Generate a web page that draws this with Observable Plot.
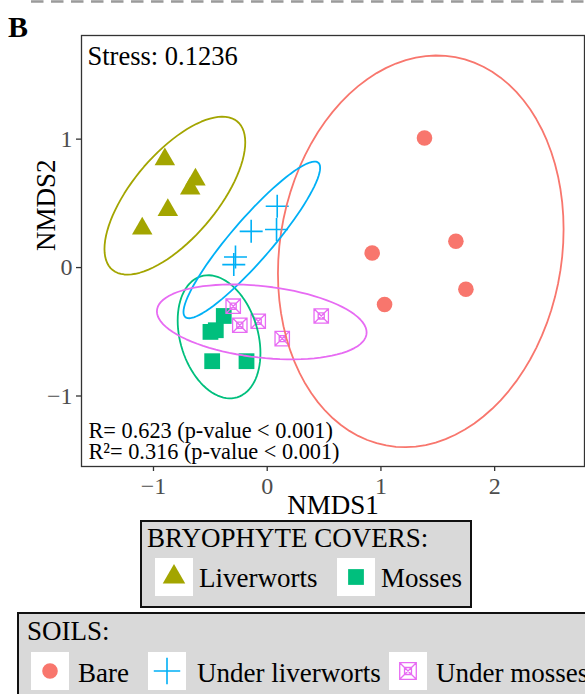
<!DOCTYPE html>
<html>
<head>
<meta charset="utf-8">
<script src="https://cdn.jsdelivr.net/npm/d3@7"></script>
<script src="https://cdn.jsdelivr.net/npm/@observablehq/plot@0.6"></script>
<style>
  body { margin: 0; background: #fff; }
  #fig { position: relative; width: 585px; height: 694px; overflow: hidden; background: #fff;
         font-family: "Liberation Serif", "Times New Roman", serif; }
  #fig > svg { position: absolute; left: 0; top: 0; }
</style>
</head>
<body>
<div id="fig"></div>
<script>
// Sample groups (soil / bryophyte cover) and their ggplot-style hue colours
const groups = ["Bare", "Liverworts", "Mosses", "Under liverworts", "Under mosses"];
const groupColors = ["#F8766D", "#A3A500", "#00BF7D", "#00B0F6", "#E76BF3"];

// NMDS site scores per group
const bareX = [1.383, 1.659, 0.923, 1.747, 1.032];
const bareY = [1.009, 0.205, 0.114, -0.169, -0.288];
const liverX = [-0.900, -0.631, -0.677, -0.874, -1.099];
const liverY = [0.843, 0.685, 0.615, 0.448, 0.303];
const mossX = [-0.382, -0.499, -0.452, -0.484, -0.182];
const mossY = [-0.377, -0.501, -0.488, -0.729, -0.729];
const underLiverX = [0.088, -0.141, 0.082, -0.279, -0.294];
const underLiverY = [0.477, 0.282, 0.296, 0.082, 0.023];
const underMossX = [-0.299, -0.241, -0.079, 0.132, 0.475];
const underMossY = [-0.301, -0.449, -0.418, -0.553, -0.377];

const xTicks = [-1, 0, 1, 2];
const yTicks = [-1, 0, 1];
const xTitle = "NMDS1";
const yTitle = "NMDS2";
const stressLabel = "Stress: 0.1236";
const statLines = ["R= 0.623 (p-value < 0.001)", "R\u00B2= 0.316 (p-value < 0.001)"];
const panelLetter = "B";
const coverTitle = "BRYOPHYTE COVERS:";
const coverItems = ["Liverworts", "Mosses"];
const soilTitle = "SOILS:";
const soilItems = ["Bare", "Under liverworts", "Under mosses"];

const xs = [bareX, liverX, mossX, underLiverX, underMossX];
const ys = [bareY, liverY, mossY, underLiverY, underMossY];
const samples = groups.flatMap((g, i) => xs[i].map((x, j) => ({group: g, x, y: ys[i][j]})));
const colorOf = g => groupColors[groups.indexOf(g)];

// Integer tick labels with a typographic minus sign
const tickFmt = d => (d < 0 ? "\u2212" : "") + Math.abs(d);

// Line-drawn symbols (open plus, and a boxed cross with an inner square)
const plusLine = {
  draw(ctx, size) {
    const r = Math.sqrt(size / Math.PI);
    ctx.moveTo(-r, 0); ctx.lineTo(r, 0);
    ctx.moveTo(0, -r); ctx.lineTo(0, r);
  }
};
const boxedCross = {
  draw(ctx, size) {
    const r = Math.sqrt(size / Math.PI), k = r * 0.42;
    ctx.moveTo(-r, -r); ctx.lineTo(r, -r); ctx.lineTo(r, r); ctx.lineTo(-r, r); ctx.closePath();
    ctx.moveTo(-k, -k); ctx.lineTo(k, -k); ctx.lineTo(k, k); ctx.lineTo(-k, k); ctx.closePath();
    ctx.moveTo(-r, -r); ctx.lineTo(r, r);
    ctx.moveTo(r, -r); ctx.lineTo(-r, r);
  }
};

// 95% confidence ellipse from a robust multivariate-t covariance (as MASS::cov.trob)
function covTrob(pts, nu = 5, maxit = 25, tol = 0.01) {
  const n = pts.length, p = 2;
  let loc = [d3.mean(pts, d => d[0]), d3.mean(pts, d => d[1])];
  let w = pts.map(() => 1);
  let X = [];
  for (let iter = 0; iter < maxit; iter++) {
    const w0 = w.slice();
    X = pts.map(d => [d[0] - loc[0], d[1] - loc[1]]);
    const sw = d3.sum(w);
    let a = 0, b = 0, c = 0;
    X.forEach((v, i) => { a += w[i] * v[0] * v[0] / sw; b += w[i] * v[0] * v[1] / sw; c += w[i] * v[1] * v[1] / sw; });
    const det = a * c - b * b;
    const Q = X.map(v => (c * v[0] * v[0] - 2 * b * v[0] * v[1] + a * v[1] * v[1]) / det);
    w = Q.map(q => (nu + p) / (nu + q));
    const sw2 = d3.sum(w);
    loc = [d3.sum(pts, (d, i) => w[i] * d[0]) / sw2, d3.sum(pts, (d, i) => w[i] * d[1]) / sw2];
    if (w.every((v, i) => Math.abs(v - w0[i]) < tol)) break;
  }
  let a = 0, b = 0, c = 0;
  X.forEach((v, i) => { a += w[i] * v[0] * v[0]; b += w[i] * v[0] * v[1]; c += w[i] * v[1] * v[1]; });
  return {center: loc, cov: [a / n, b / n, c / n]};
}

function ellipsePath(group, level = 0.95, segments = 90) {
  const pts = samples.filter(d => d.group === group).map(d => [d.x, d.y]);
  const {center, cov} = covTrob(pts);
  const dfd = pts.length - 1;
  // F quantile with 2 numerator degrees of freedom has a closed form
  const f = (dfd / 2) * (Math.pow(1 - level, -2 / dfd) - 1);
  const radius = Math.sqrt(2 * f);
  const r11 = Math.sqrt(cov[0]), r12 = cov[1] / r11, r22 = Math.sqrt(cov[2] - r12 * r12);
  return d3.range(segments + 1).map(k => {
    const t = 2 * Math.PI * k / segments, u = Math.cos(t), v = Math.sin(t);
    return {group, x: center[0] + radius * u * r11, y: center[1] + radius * (u * r12 + v * r22)};
  });
}
const ellipses = groups.flatMap(g => ellipsePath(g));

const dotStyles = {
  "Bare": {symbol: "circle", r: 7.8, filled: true},
  "Liverworts": {symbol: "triangle", r: 7.6, filled: true},
  "Mosses": {symbol: "square", r: 8.9, filled: true},
  "Under liverworts": {symbol: plusLine, r: 11.5, filled: false, strokeWidth: 1.6},
  "Under mosses": {symbol: boxedCross, r: 7.2, filled: false, strokeWidth: 1.3}
};

const dotMarks = groups.map(g => {
  const s = dotStyles[g];
  const data = samples.filter(d => d.group === g);
  return s.filled
    ? Plot.dot(data, {x: "x", y: "y", symbol: s.symbol, r: s.r, fill: colorOf(g), stroke: "none"})
    : Plot.dot(data, {x: "x", y: "y", symbol: s.symbol, r: s.r, fill: "none", stroke: colorOf(g), strokeWidth: s.strokeWidth});
});

const chart = Plot.plot({
  width: 585,
  height: 525,
  marginLeft: 81,
  marginRight: 1,
  marginTop: 35,
  marginBottom: 59,
  style: {fontFamily: "Liberation Serif", fontSize: "24px", background: "transparent", overflow: "visible"},
  x: {domain: [-1.633, 2.79]},
  y: {domain: [-1.549, 1.807]},
  color: {domain: groups, range: groupColors},
  marks: [
    ...dotMarks,
    Plot.line(ellipses, {x: "x", y: "y", z: "group", stroke: "group", strokeWidth: 1.8, curve: "linear-closed", clip: true}),
    Plot.frame({stroke: "#333", strokeWidth: 1.3}),
    Plot.axisX({ticks: xTicks, tickFormat: tickFmt, tickSize: 5, tickPadding: 5, fontSize: 24, fill: "#4d4d4d", stroke: "#333", strokeWidth: 1.3, label: null}),
    Plot.axisY({ticks: yTicks, tickFormat: tickFmt, tickSize: 5, tickPadding: 4, fontSize: 24, fill: "#4d4d4d", stroke: "#333", strokeWidth: 1.3, label: null}),
    Plot.text([xTitle], {text: d => d, frameAnchor: "bottom", dy: 47, lineAnchor: "bottom", fontSize: 27, fill: "black"}),
    Plot.text([yTitle], {text: d => d, frameAnchor: "left", dx: -27, rotate: -90, lineAnchor: "bottom", fontSize: 27, fill: "black"}),
    Plot.text([stressLabel], {text: d => d, frameAnchor: "top-left", dx: 6, dy: 29, lineAnchor: "bottom", textAnchor: "start", fontSize: 26.5, fill: "black"}),
    Plot.text([statLines.join("\n")], {text: d => d, frameAnchor: "bottom-left", dx: 7, dy: -8, lineAnchor: "bottom", textAnchor: "start", lineHeight: 0.91, fontSize: 22.3, fill: "black"})
  ]
});

const fig = document.getElementById("fig");
fig.appendChild(chart);

// Panel letter, separator and the two boxed legends
const svg = d3.select(fig).append("svg")
  .attr("width", 585).attr("height", 694)
  .style("font-family", "'Liberation Serif', serif");

svg.append("line").attr("x1", 31).attr("x2", 585).attr("y1", 1.5).attr("y2", 1.5)
  .attr("stroke", "#9a9a9a").attr("stroke-width", 2.5).attr("stroke-dasharray", "12.5 7.5");
svg.append("text").attr("x", 8).attr("y", 37).attr("font-size", 30).attr("font-weight", "bold").text(panelLetter);

function symbolPath(g, scale) {
  const s = dotStyles[g];
  const type = typeof s.symbol === "string"
    ? {circle: d3.symbolCircle, triangle: d3.symbolTriangle, square: d3.symbolSquare}[s.symbol]
    : s.symbol;
  const r = s.r * scale;
  return d3.symbol(type, Math.PI * r * r)();
}

function drawLegend(box, title, titlePos, items, keyX, textX, keyY, baseY, scales) {
  svg.append("rect").attr("x", box[0]).attr("y", box[1]).attr("width", box[2]).attr("height", box[3])
    .attr("fill", "#d9d9d9").attr("stroke", "#111").attr("stroke-width", 2);
  svg.append("text").attr("x", titlePos[0]).attr("y", titlePos[1]).attr("font-size", 27).text(title);
  items.forEach((g, i) => {
    const s = dotStyles[g];
    svg.append("rect").attr("x", keyX[i]).attr("y", keyY).attr("width", 38).attr("height", 38).attr("fill", "#fff");
    svg.append("path").attr("d", symbolPath(g, scales[i]))
      .attr("transform", `translate(${keyX[i] + 19},${keyY + 19})`)
      .attr("fill", s.filled ? colorOf(g) : "none")
      .attr("stroke", s.filled ? "none" : colorOf(g))
      .attr("stroke-width", s.strokeWidth || 0);
    svg.append("text").attr("x", textX[i]).attr("y", baseY).attr("font-size", 27).text(g);
  });
}

drawLegend([141, 521, 330, 86], coverTitle, [147, 547], coverItems, [155, 337], [199, 381], 558, 587, [1.1, 1.0]);
drawLegend([18, 613, 600, 120], soilTitle, [27, 640], soilItems, [31, 148, 389], [78, 197, 436], 652, 682, [1.0, 1.15, 1.15]);
</script>
</body>
</html>
